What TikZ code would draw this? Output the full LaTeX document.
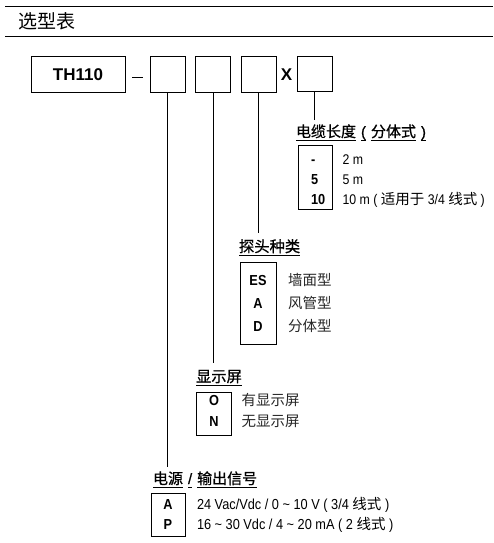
\documentclass[tikz,border=0pt]{standalone}
\usepackage{fontspec}
\setmainfont{Liberation Sans}
\newfontfamily\nar{Liberation Sans}[FakeStretch=0.88]
\newfontfamily\cjk{Noto Sans CJK SC}
\newfontfamily\cjkm{Noto Sans CJK SC}[FakeBold=0.8]
\newcommand\zh[1]{{\fontsize{14.5}{16}\cjk #1}}
\newcommand\ulx[1]{\setbox0\hbox{#1}\rlap{\rule[-4pt]{\wd0}{1pt}}\box0}
\newcommand\gap{\hspace{5pt}}
\begin{document}
\begin{tikzpicture}[x=1pt,y=-1pt,
  every node/.style={inner sep=0pt, outer sep=0pt},
  rule/.style={line width=1pt},
  slot/.style={draw, line width=1pt, minimum width=35pt, minimum height=35pt},
  codebox/.style={draw, line width=1pt, anchor=north west},
  lbl/.style={anchor=base west, font=\fontsize{15.3}{17}\cjkm},
  code/.style={anchor=base, font=\fontsize{14.5}{16}\nar\bfseries},
  codel/.style={anchor=base west, font=\fontsize{14.5}{16}\nar\bfseries},
  desc/.style={anchor=base west, font=\fontsize{14}{16}\nar},
  zdesc/.style={anchor=base west, font=\fontsize{14.5}{16}\cjk, text=black!85},
  big/.style={font=\fontsize{17}{19}\selectfont\bfseries}
]
\useasboundingbox (0,0) rectangle (493,543);
% header
\draw[rule] (5,7) -- (493,7);
\draw[rule] (5,37) -- (493,37);
\node[anchor=base west, font=\fontsize{19}{21}\cjk] (title) at (18,29) {选型表};
% top row
\node[slot, big, minimum width=94pt] (th) at (78,74.5) {TH110};
\draw[rule] (132,77) -- (143,77);
\node[slot] (b1) at (167.5,74.5) {};
\node[slot] (b2) at (213,74.5) {};
\node[slot] (b3) at (258.5,74.5) {};
\node[big, anchor=base] (x) at (286.5,80.7) {X};
\node[slot, minimum height=34pt] (b4) at (314.5,74) {};
% connector ends
\coordinate (e4) at (314.5,120);
\coordinate (e3) at (258.5,233);
\coordinate (e2) at (213,363);
\coordinate (e1) at (167.5,467);
\draw[rule] (b4.south) -- (e4);
\draw[rule] (b3.south) -- (e3);
\draw[rule] (b2.south) -- (e2);
\draw[rule] (b1.south) -- (e1);
% cable length
\node[lbl, font=\fontsize{15}{17}\cjkm] (lcab) at (296,137) {\ulx{电缆长度}\gap\ulx{\fontspec{Liberation Sans}[FakeBold=0.8](}\gap\ulx{分体式}\gap\ulx{\fontspec{Liberation Sans}[FakeBold=0.8])}};
\node[codebox, minimum width=34pt, minimum height=64pt] (bcab) at (298,145) {};
\node[codel] (c1) at (311,164.5) {-};
\node[codel] (c2) at (311,184.5) {5};
\node[codel] (c3) at (311,204.5) {10};
\node[desc] (d1) at (342.5,164.5) {2 m};
\node[desc] (d2) at (342.5,184.5) {5 m};
\node[desc] (d3) at (342.5,204.5) {10 m ( \zh{适用于} 3/4 \zh{线式} )};
% probe type
\node[lbl] (lpro) at (239,252) {\ulx{探头种类}};
\node[codebox, minimum width=36pt, minimum height=82pt] (bpro) at (240,262) {};
\node[code] (p1) at (258,285) {ES};
\node[code] (p2) at (258,308) {A};
\node[code] (p3) at (258,331) {D};
\node[zdesc] (q1) at (288,285) {墙面型};
\node[zdesc] (q2) at (288,308) {风管型};
\node[zdesc] (q3) at (288,331) {分体型};
% display
\node[lbl] (ldis) at (196,382) {\ulx{显示屏}};
\node[codebox, minimum width=35pt, minimum height=43pt] (bdis) at (196,392) {};
\node[code] (o1) at (214,405.5) {O};
\node[code] (o2) at (214,426.5) {N};
\node[zdesc] (r1) at (241.5,405.5) {有显示屏};
\node[zdesc] (r2) at (241.5,426.5) {无显示屏};
% power / output
\node[lbl, font=\fontsize{15}{17}\cjkm] (lpow) at (153,484) {\ulx{电源}\gap\ulx{\fontspec{Liberation Sans}[FakeBold=0.8]/}\gap\ulx{输出信号}};
\node[codebox, minimum width=34pt, minimum height=43pt] (bpow) at (151,493) {};
\node[code] (a1) at (168,509.5) {A};
\node[code] (a2) at (168,529) {P};
\node[desc, font=\fontsize{14.5}{16}\nar] (s1) at (197,509.5) {24 Vac/Vdc / 0 \textasciitilde{} 10 V ( 3/4 \zh{线式} )};
\node[desc, font=\fontsize{14.5}{16}\nar] (s2) at (197,529) {16 \textasciitilde{} 30 Vdc / 4 \textasciitilde{} 20 mA ( 2 \zh{线式} )};
\end{tikzpicture}
\end{document}
